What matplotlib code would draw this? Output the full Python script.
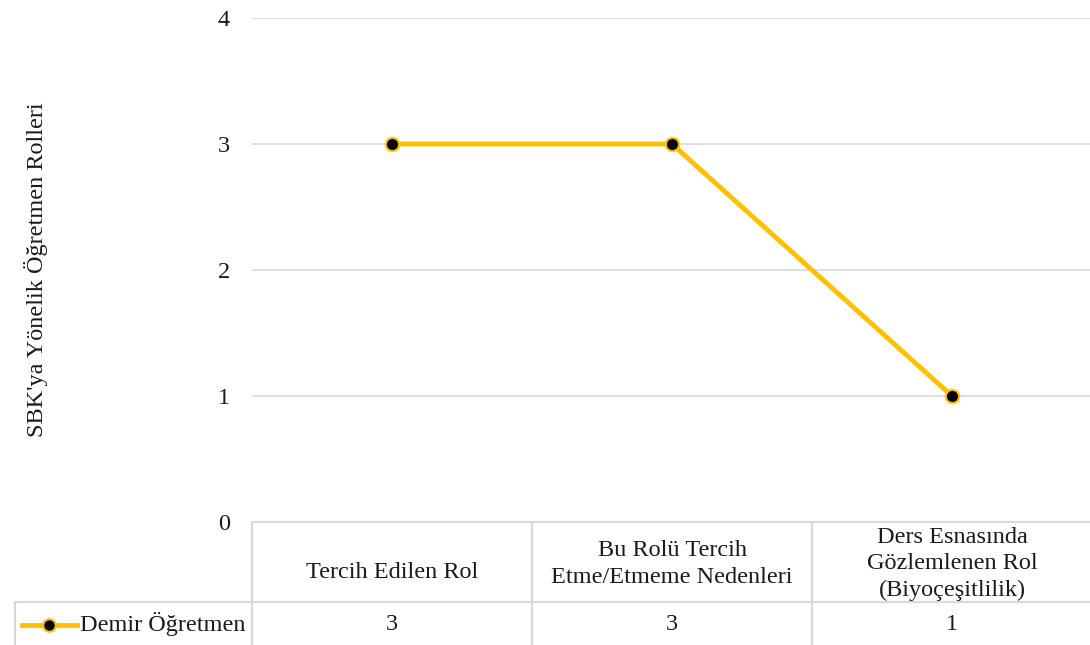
import matplotlib.pyplot as plt
from matplotlib.lines import Line2D

plt.rcParams['font.family'] = ['Liberation Serif', 'DejaVu Serif']

# data
categories = ['Tercih Edilen Rol',
              'Bu Rolü Tercih\nEtme/Etmeme Nedenleri',
              'Ders Esnasında\nGözlemlenen Rol\n(Biyoçeşitlilik)']
series_name = 'Demir Öğretmen'
values = [3, 3, 1]
y_ticks = [0, 1, 2, 3, 4]

W, H = 1090, 645
fig = plt.figure(figsize=(W / 100, H / 100), dpi=100)

# plot area in pixels
left, right, top, bottom = 252, 1092, 18, 522
ax = fig.add_axes([left / W, 1 - bottom / H, (right - left) / W, (bottom - top) / H])

gold = '#FFC000'
grid_c = '#D9D9D9'
txt_c = '#1a1a1a'
fs = 17.5

x = list(range(len(categories)))
ax.plot(x, values, color=gold, lw=3.5, marker='o', markersize=9.5,
        markerfacecolor='black', markeredgecolor=gold, markeredgewidth=1.5,
        solid_capstyle='round', zorder=3)

ax.set_xlim(-0.5, len(categories) - 0.5)
ax.set_ylim(0, 4)
ax.set_yticks(y_ticks)
ax.set_yticklabels([str(v) for v in y_ticks], fontsize=fs, color=txt_c)
ax.tick_params(axis='y', length=0, pad=16)
ax.set_xticks([])
for v in y_ticks[1:]:
    ax.axhline(v, color=grid_c, lw=1.2, zorder=1)
for s in ax.spines.values():
    s.set_visible(False)

ax.set_ylabel("SBK'ya Yönelik Öğretmen Rolleri", fontsize=fs, color=txt_c)
ax.yaxis.set_label_coords(-(left - 36) / (right - left), 0.5)
ax.yaxis.label.set_va('center')

# data table below the axis
def fx(px):
    return px / W

def fy(py):
    return 1 - py / H

row_line = 602
tbl = dict(color=grid_c, lw=1.5, transform=fig.transFigure)
fig.add_artist(Line2D([fx(left), fx(W)], [fy(bottom), fy(bottom)], **tbl))
fig.add_artist(Line2D([fx(15), fx(W)], [fy(row_line), fy(row_line)], **tbl))
fig.add_artist(Line2D([fx(15), fx(15)], [fy(row_line), fy(H)], **tbl))
cw = (right - left) / len(categories)
for i in range(len(categories) + 1):
    xp = left + i * cw
    fig.add_artist(Line2D([fx(xp), fx(xp)], [fy(bottom), fy(H)], **tbl))

for i, (cat, v) in enumerate(zip(categories, values)):
    xc = left + (i + 0.5) * cw
    yc = 564 if '\n' in cat else 572
    fig.text(fx(xc), fy(yc), cat, ha='center', va='center',
             fontsize=fs, color=txt_c, linespacing=1.32)
    fig.text(fx(xc), fy((row_line + H) / 2 + 1), str(v), ha='center', va='center',
             fontsize=fs, color=txt_c)

# legend key in the table
ly = fy((row_line + H) / 2 + 1)
fig.add_artist(Line2D([fx(22), fx(77)], [ly, ly], color=gold, lw=3.5,
                      transform=fig.transFigure))
fig.add_artist(Line2D([fx(49)], [ly], marker='o', markersize=9,
                      markerfacecolor='black', markeredgecolor=gold,
                      markeredgewidth=1.5, transform=fig.transFigure))
fig.text(fx(80), ly, series_name, ha='left', va='center', fontsize=fs, color=txt_c)

fig.savefig('out.png', dpi=100)
